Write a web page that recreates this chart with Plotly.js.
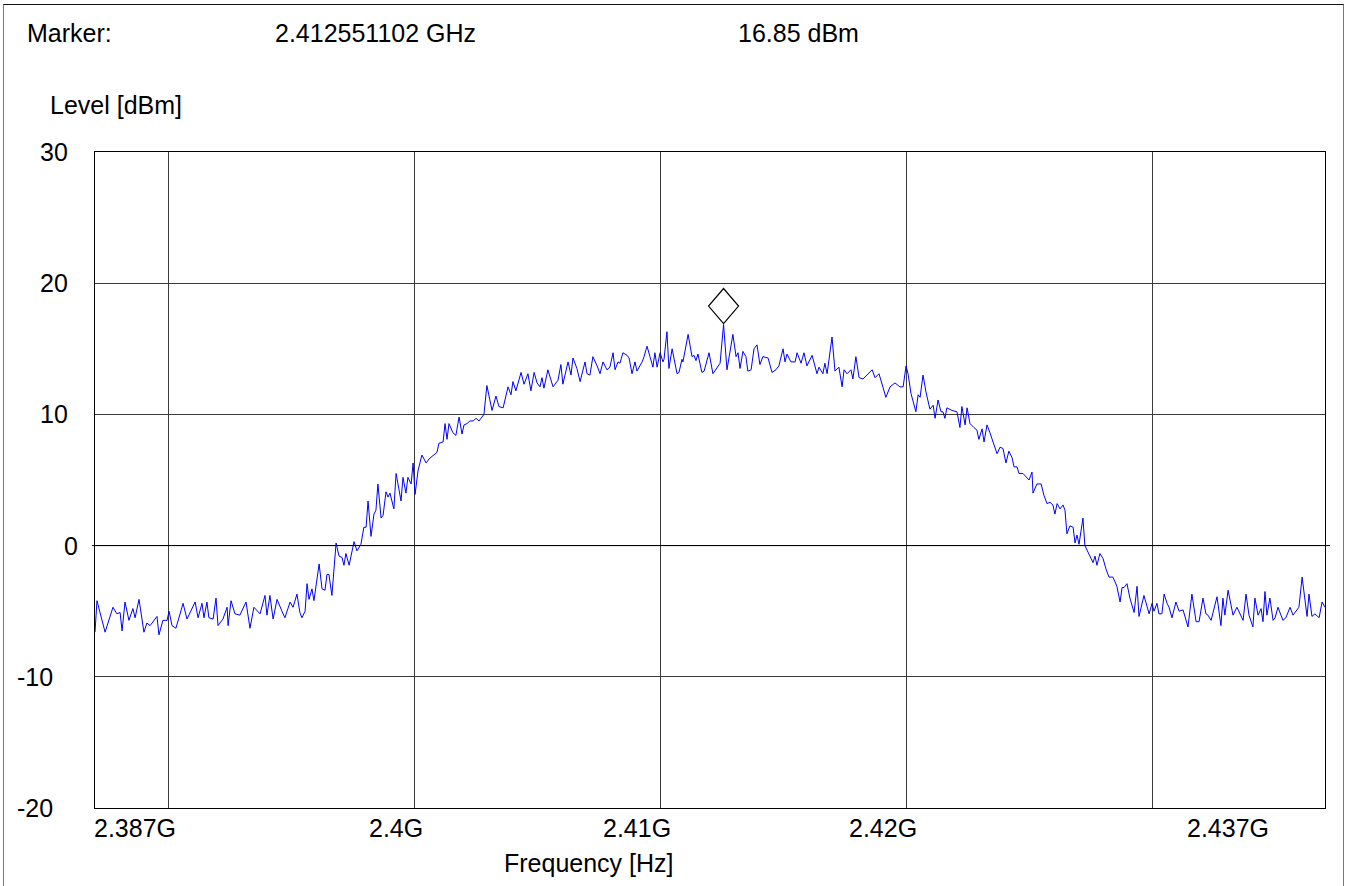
<!DOCTYPE html>
<html>
<head>
<meta charset="utf-8">
<script src="https://cdn.plot.ly/plotly-3.0.1.min.js"></script>
<style>
  html, body { margin:0; padding:0; background:#fff; overflow:hidden; }
  #wrap { position:relative; width:1349px; height:886px; }
  #chart { position:absolute; left:0; top:0; width:1349px; height:886px; }
  #frame { position:absolute; left:3px; top:4px; width:1341px; height:900px;
           border-top:1px solid #111; border-left:1px solid #777; border-right:1px solid #777;
           pointer-events:none; box-sizing:border-box; }
</style>
</head>
<body>
<div id="wrap"><div id="chart"></div><div id="frame"></div></div>
<script>
// ---- Data ----
const sweepStartMHz = 2387;
const sweepStopMHz = 2437;

// frequency offsets from sweep start, MHz
const freqOffsetMHz = [
  0.00,0.08,0.41,0.73,0.89,1.02,1.10,1.22,1.38,1.54,1.63,1.79,1.99,2.11,2.24,2.52,2.60,2.76,2.93,3.01,3.13,3.29,3.58,3.74,4.07,4.19,4.35,4.43,4.55,4.63,4.80,4.92,5.00,5.20,5.37,5.41,5.53,5.69,5.89,6.14,6.30,6.46,6.71,6.91,6.99,7.11,7.24,7.40,7.60,7.72,
  7.93,8.05,8.21,8.33,8.41,8.54,8.62,8.70,8.82,8.90,9.11,9.23,9.35,9.43,9.51,9.63,9.80,9.92,10.04,10.12,10.20,10.33,10.53,10.65,10.81,10.93,11.02,11.10,11.22,11.34,11.42,11.50,11.63,11.71,11.83,11.91,11.99,12.15,12.24,12.32,12.44,12.52,12.64,12.72,12.85,12.93,13.01,13.13,13.29,13.46,13.58,13.70,13.82,13.90,13.98,14.15,14.23,14.31,14.39,14.55,14.67,14.80,14.92,15.00,15.12,15.24,15.37,15.49,15.61,15.77,15.81,
  15.93,16.14,16.30,16.42,16.59,16.79,16.91,16.99,17.11,17.32,17.44,17.60,17.72,17.85,17.97,18.09,18.17,18.25,18.41,18.62,18.82,18.94,19.02,19.23,19.35,19.43,19.59,19.72,19.92,20.00,20.12,20.24,20.41,20.53,20.65,20.81,20.93,21.06,21.14,21.26,21.34,21.46,21.63,21.71,21.83,21.95,22.03,22.24,22.32,22.44,22.56,22.68,22.76,22.85,22.97,23.09,23.13,23.25,23.33,
  23.46,23.66,23.74,23.86,23.90,24.11,24.27,24.35,24.43,24.51,24.67,24.76,24.96,25.12,25.28,25.41,25.551102,25.69,25.93,26.06,26.14,26.22,26.34,26.46,26.54,26.67,26.79,26.91,27.03,27.15,27.36,27.52,27.68,27.80,27.97,28.05,28.13,28.29,28.46,28.54,28.70,28.82,28.94,29.15,29.35,29.43,29.59,29.67,29.76,29.96,30.08,30.24,30.37,30.45,30.57,30.73,30.81,30.93,31.06,31.22,31.38,31.59,31.71,31.87,
  32.15,32.32,32.52,32.72,32.85,32.97,33.05,33.17,33.37,33.46,33.54,33.66,33.78,33.94,34.07,34.15,34.27,34.39,34.47,34.55,34.63,34.84,35.04,35.16,35.24,35.37,35.45,35.57,35.73,35.85,35.93,36.06,36.14,36.26,36.38,36.50,36.67,36.79,36.91,37.03,37.15,37.28,37.36,37.48,37.56,37.72,37.89,37.97,38.09,38.13,38.29,38.46,38.58,38.70,38.82,38.94,39.02,39.11,39.23,39.35,39.43,39.51,39.63,39.76,39.84,39.92,40.00,40.16,40.24,40.37,
  40.57,40.65,40.73,40.85,40.98,41.10,41.22,41.38,41.54,41.67,41.75,41.83,41.95,42.07,42.24,42.36,42.44,42.64,42.76,42.85,42.97,43.05,43.17,43.25,43.37,43.46,43.58,43.66,43.78,43.94,44.07,44.23,44.43,44.59,44.76,44.88,45.04,45.16,45.24,45.37,45.61,45.77,45.85,45.93,46.06,46.26,46.42,46.67,46.79,46.91,47.07,47.15,47.28,47.40,47.48,47.56,47.64,47.76,47.89,47.97,48.09,48.29,48.41,48.58,48.70,48.94,49.07,49.27,49.35,49.47,49.59,49.76,49.88,50.00
];

// measured level, dBm
const levelDbm = [
  -6.6,-4.2,-6.6,-4.7,-5.2,-5.1,-6.5,-4.3,-5.7,-4.8,-5.5,-4.1,-6.6,-5.9,-6.1,-5.4,-6.8,-5.7,-5.7,-5.0,-6.1,-6.3,-4.4,-5.6,-4.3,-5.5,-4.4,-5.5,-4.3,-5.5,-5.6,-4.0,-6.1,-5.6,-4.7,-6.1,-4.2,-5.2,-5.3,-4.3,-6.3,-4.7,-5.2,-3.8,-5.3,-3.8,-5.6,-4.1,-5.0,-5.5,
  -4.3,-4.7,-3.7,-5.1,-5.5,-5.0,-2.9,-4.1,-3.3,-4.2,-1.4,-3.3,-3.4,-2.2,-2.2,-3.8,0.2,-0.8,-0.9,-1.5,-0.6,-1.5,0.3,-0.4,0.1,1.4,1.4,3.4,0.7,2.4,2.7,4.7,2.1,2.3,4.1,3.7,4.0,2.8,5.5,4.7,3.4,5.2,4.0,5.2,4.7,6.3,3.9,5.7,6.9,6.3,6.6,6.8,7.0,7.1,7.8,7.9,9.3,8.1,9.3,8.6,8.4,9.8,8.5,9.2,9.3,9.5,9.5,9.7,9.5,9.9,10.0,
  12.2,10.3,11.4,10.6,10.5,12.1,11.5,12.5,11.8,13.2,12.3,13.1,11.8,13.2,12.4,12.1,12.8,12.0,13.4,12.1,12.6,13.8,12.3,14.0,13.0,14.3,13.5,12.5,14.0,13.1,13.0,14.4,13.7,13.1,14.0,13.4,13.6,14.7,13.4,14.0,13.9,14.7,14.5,14.3,13.1,14.0,13.3,14.0,14.4,15.2,14.4,13.6,14.7,13.6,14.7,14.0,14.2,16.3,13.5,
  15.0,13.1,13.2,14.2,14.0,16.1,14.4,14.5,14.1,14.6,13.2,13.3,14.7,13.1,13.6,13.9,16.85,13.4,16.1,14.4,14.7,13.5,14.8,14.4,13.3,13.4,15.0,15.3,13.8,14.4,14.3,13.2,13.4,13.7,15.0,14.0,14.6,14.0,14.0,14.7,13.9,14.7,13.7,14.5,13.1,13.6,13.1,13.9,13.1,15.9,13.3,13.6,12.1,13.4,13.1,13.4,12.7,14.4,12.8,12.7,13.0,13.4,12.8,13.1,
  11.3,12.1,12.4,12.1,12.1,13.7,13.1,11.6,10.2,11.5,11.3,13.0,11.7,10.4,10.7,9.7,11.1,10.2,10.2,9.7,10.5,10.3,10.2,9.0,10.6,9.2,10.5,9.3,9.0,8.8,8.1,8.9,7.9,9.2,8.6,8.0,7.0,7.5,7.4,6.3,7.2,6.7,6.0,6.0,5.5,5.5,5.2,5.0,5.6,4.0,4.7,4.7,3.8,3.2,3.3,3.1,2.4,3.2,2.8,3.1,2.7,0.9,1.5,1.4,0.2,0.8,0.1,2.1,0.0,-0.5,
  -1.3,-0.8,-1.5,-0.6,-1.0,-1.8,-2.4,-2.4,-3.1,-4.3,-3.2,-3.2,-2.9,-4.0,-5.1,-3.1,-5.4,-3.8,-4.7,-5.2,-4.4,-5.0,-4.4,-5.2,-5.2,-3.7,-4.4,-4.7,-5.5,-4.3,-5.0,-4.9,-6.2,-3.7,-5.8,-5.8,-4.0,-5.2,-5.3,-5.7,-3.9,-6.1,-4.0,-5.3,-3.4,-5.3,-4.7,-5.7,-3.7,-5.3,-6.2,-4.0,-5.3,-4.8,-5.8,-3.5,-5.3,-4.0,-5.7,-5.5,-4.7,-5.7,-5.5,-4.7,-5.3,-4.7,-2.4,-5.4,-3.7,-5.4,-5.2,-5.5,-4.3,-4.7
];

const markerFreqHz = 2412551102;
const markerLevelDbm = 16.85;
const markerFreqText = '2.412551102 GHz';
const markerLevelText = '16.85 dBm';

const xGridHz = [2.39e9, 2.40e9, 2.41e9, 2.42e9, 2.43e9];
const xTickText = ['2.387G', '2.4G', '2.41G', '2.42G', '2.437G'];
const yTickVals = [-20, -10, 0, 10, 20, 30];
const yTickText = ['-20', '-10', '0', '10', '20', '30'];

// ---- Layout helpers (pixel layout of the original sheet) ----
const PL = 95, PR = 1325, PT = 152, PB = 808;
const pxX = px => (px - PL) / (PR - PL);
const pxY = py => (PB - py) / (PB - PT);

const xFreqHz = freqOffsetMHz.map(o => (sweepStartMHz + o) * 1e6);

const FONT = '"Liberation Sans", Arial, Helvetica, sans-serif';
const FS = 25;

const trace = {
  type: 'scatter', mode: 'lines',
  x: xFreqHz, y: levelDbm,
  line: { color: '#0000ff', width: 1 },
  hoverinfo: 'skip'
};

const xLabelCenters = [135, 395.6, 637, 883, 1227.5];
const yLabelRight = { '30': 68, '20': 68, '10': 68, '0': 78, '-10': 53, '-20': 53 };

const annotations = [];
xTickText.forEach((t, i) => {
  annotations.push({ text: t, xref: 'paper', yref: 'paper', x: pxX(xLabelCenters[i]), y: pxY(828),
    xanchor: 'center', yanchor: 'middle', showarrow: false, font: { family: FONT, size: FS, color: '#000' } });
});
yTickVals.forEach((v, i) => {
  annotations.push({ text: yTickText[i], xref: 'paper', yref: 'y', x: pxX(yLabelRight[yTickText[i]] + 2), y: v,
    xanchor: 'right', yanchor: 'middle', showarrow: false, font: { family: FONT, size: FS, color: '#000' } });
});
annotations.push({ text: 'Frequency [Hz]', xref: 'paper', yref: 'paper', x: pxX(589), y: pxY(863),
  xanchor: 'center', yanchor: 'middle', showarrow: false, font: { family: FONT, size: FS, color: '#000' } });
annotations.push({ text: 'Level [dBm]', xref: 'paper', yref: 'paper', x: pxX(48), y: pxY(105),
  xanchor: 'left', yanchor: 'middle', showarrow: false, font: { family: FONT, size: FS, color: '#000' } });
annotations.push({ text: 'Marker:', xref: 'paper', yref: 'paper', x: pxX(25), y: pxY(33),
  xanchor: 'left', yanchor: 'middle', showarrow: false, font: { family: FONT, size: FS, color: '#000' } });
annotations.push({ text: markerFreqText, xref: 'paper', yref: 'paper', x: pxX(273), y: pxY(33),
  xanchor: 'left', yanchor: 'middle', showarrow: false, font: { family: FONT, size: FS, color: '#000' } });
annotations.push({ text: markerLevelText, xref: 'paper', yref: 'paper', x: pxX(736), y: pxY(33),
  xanchor: 'left', yanchor: 'middle', showarrow: false, font: { family: FONT, size: FS, color: '#000' } });

const shapes = [
  // zero line running slightly past the frame
  { type: 'line', xref: 'paper', yref: 'y', x0: -3 / (PR - PL), x1: 1 + 5 / (PR - PL), y0: 0, y1: 0,
    line: { color: '#000', width: 1 } },
  // marker diamond sitting on top of the marker point
  { type: 'path', xref: 'x', yref: 'y', xsizemode: 'pixel', ysizemode: 'pixel',
    xanchor: markerFreqHz, yanchor: markerLevelDbm,
    path: 'M0,1 L15,18.5 L0,36 L-15,18.5 Z',
    line: { color: '#000', width: 1.2 }, fillcolor: 'rgba(0,0,0,0)' }
];

const layout = {
  width: 1349, height: 886,
  margin: { l: PL, r: 1349 - PR, t: PT, b: 886 - PB, pad: 0 },
  paper_bgcolor: '#fff', plot_bgcolor: '#fff',
  showlegend: false,
  font: { family: FONT, size: FS, color: '#000' },
  xaxis: {
    range: [sweepStartMHz * 1e6, sweepStopMHz * 1e6],
    tickmode: 'array', tickvals: xGridHz, ticktext: xTickText, showticklabels: false,
    showgrid: true, gridcolor: '#3a3a3a', gridwidth: 1,
    showline: true, mirror: true, linecolor: '#000', linewidth: 1,
    zeroline: false, ticks: '', fixedrange: true
  },
  yaxis: {
    range: [-20, 30],
    tickmode: 'array', tickvals: yTickVals, ticktext: yTickText, showticklabels: false,
    showgrid: true, gridcolor: '#3a3a3a', gridwidth: 1,
    showline: true, mirror: true, linecolor: '#000', linewidth: 1,
    zeroline: false, ticks: '', fixedrange: true
  },
  shapes: shapes,
  annotations: annotations
};

Plotly.newPlot('chart', [trace], layout, { staticPlot: true, displayModeBar: false });
</script>
</body>
</html>
